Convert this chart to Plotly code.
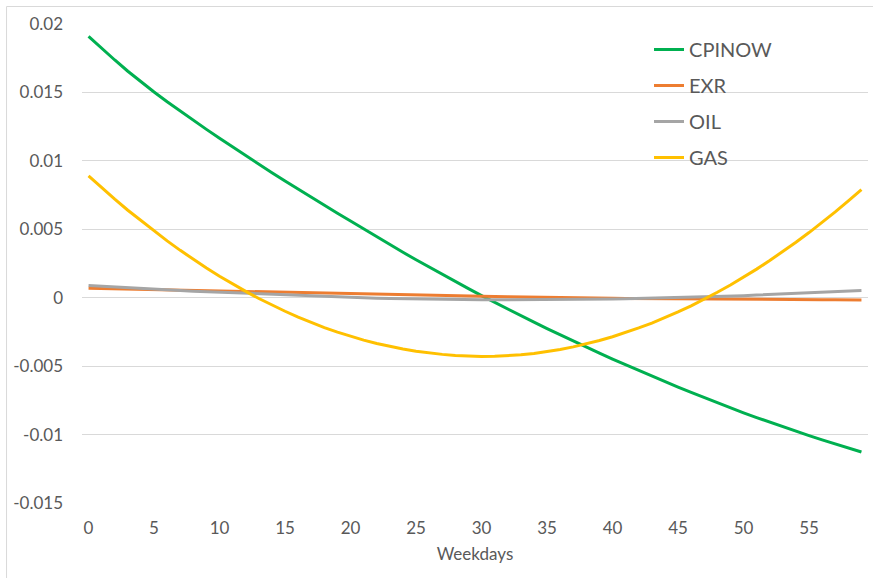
import plotly.graph_objects as go

weekdays = list(range(60))

cpinow = [0.01910, 0.01822, 0.01737, 0.01655, 0.01577, 0.01503,
          0.01432, 0.01363, 0.01296, 0.01230, 0.01165,
          0.01101, 0.01038, 0.00975, 0.00913, 0.00852,
          0.00792, 0.00733, 0.00675, 0.00617, 0.00560,
          0.00502, 0.00445, 0.00388, 0.00332, 0.00277,
          0.00223, 0.00170, 0.00118, 0.00066, 0.00015,
          -0.00035, -0.00084, -0.00132, -0.00179, -0.00226,
          -0.00272, -0.00317, -0.00361, -0.00405, -0.00448,
          -0.00490, -0.00532, -0.00573, -0.00613, -0.00653,
          -0.00692, -0.00730, -0.00768, -0.00805, -0.00841,
          -0.00876, -0.00910, -0.00943, -0.00976, -0.01008,
          -0.01039, -0.01069, -0.01098, -0.01127]

exr = [0.00070, 0.00068, 0.00066, 0.00064, 0.00062, 0.00060,
       0.00058, 0.00056, 0.00054, 0.00052, 0.00050,
       0.00048, 0.00046, 0.00044, 0.00042, 0.00040,
       0.00037, 0.00034, 0.00031, 0.00028, 0.00025,
       0.00023, 0.00021, 0.00019, 0.00017, 0.00015,
       0.00014, 0.00013, 0.00012, 0.00011, 0.00010,
       0.00008, 0.00007, 0.00005, 0.00004, 0.00002,
       0.00001, 0.00000, -0.00001, -0.00003, -0.00004,
       -0.00005, -0.00006, -0.00006, -0.00007, -0.00008,
       -0.00009, -0.00009, -0.00010, -0.00010, -0.00011,
       -0.00012, -0.00012, -0.00013, -0.00013, -0.00014,
       -0.00015, -0.00015, -0.00016, -0.00016]

oil = [0.00090, 0.00084, 0.00078, 0.00072, 0.00066, 0.00060,
       0.00056, 0.00052, 0.00048, 0.00044, 0.00040,
       0.00036, 0.00032, 0.00028, 0.00024, 0.00020,
       0.00016, 0.00012, 0.00008, 0.00005, 0.00002,
       -0.00001, -0.00004, -0.00006, -0.00008, -0.00010,
       -0.00011, -0.00012, -0.00013, -0.00014, -0.00015,
       -0.00015, -0.00015, -0.00015, -0.00015, -0.00015,
       -0.00014, -0.00013, -0.00012, -0.00011, -0.00010,
       -0.00008, -0.00006, -0.00004, -0.00002, 0.00000,
       0.00003, 0.00006, 0.00009, 0.00012, 0.00015,
       0.00019, 0.00023, 0.00027, 0.00031, 0.00035,
       0.00040, 0.00044, 0.00049, 0.00053]

gas = [0.00890, 0.00803, 0.00720, 0.00639, 0.00562, 0.00487,
       0.00415, 0.00346, 0.00280, 0.00217, 0.00157,
       0.00100, 0.00046, -0.00006, -0.00054, -0.00099,
       -0.00142, -0.00181, -0.00218, -0.00251, -0.00282,
       -0.00310, -0.00335, -0.00356, -0.00375, -0.00391,
       -0.00404, -0.00414, -0.00422, -0.00426, -0.00429,
       -0.00428, -0.00424, -0.00417, -0.00407, -0.00394,
       -0.00378, -0.00359, -0.00337, -0.00313, -0.00285,
       -0.00255, -0.00221, -0.00185, -0.00146, -0.00104,
       -0.00059, -0.00011, 0.00040, 0.00093, 0.00150,
       0.00209, 0.00272, 0.00337, 0.00405, 0.00476,
       0.00550, 0.00627, 0.00707, 0.00789]

series_names = ["CPINOW", "EXR", "OIL", "GAS"]
series_colors = ["#00B050", "#ED7D31", "#A5A5A5", "#FFC000"]

x_tick_vals = [0, 5, 10, 15, 20, 25, 30, 35, 40, 45, 50, 55]
x_tick_labels = ["0", "5", "10", "15", "20", "25", "30", "35", "40", "45", "50", "55"]
y_tick_vals = [0.02, 0.015, 0.01, 0.005, 0, -0.005, -0.01, -0.015]
y_tick_labels = ["0.02", "0.015", "0.01", "0.005", "0", "-0.005", "-0.01", "-0.015"]

FONT = "Lato"
TXT = "#595959"

fig = go.Figure()
for name, vals, col in zip(series_names, [cpinow, exr, oil, gas], series_colors):
    fig.add_trace(go.Scatter(x=weekdays, y=vals, mode="lines", name=name,
                             legendgroup=name,
                             line=dict(color=col, width=3)))

fig.update_layout(
    width=873, height=578,
    margin=dict(l=82, r=5, t=24, b=75, autoexpand=False),
    paper_bgcolor="white", plot_bgcolor="white",
    font=dict(family=FONT, color=TXT, size=17),
    showlegend=True,
    legend=dict(x=0.7214, y=0.9875, xanchor="left", yanchor="top",
                font=dict(size=20, color=TXT, family=FONT),
                bgcolor="rgba(0,0,0,0)", tracegroupgap=7,
                traceorder="grouped"),
    xaxis=dict(range=[-0.5, 59.5], tickvals=x_tick_vals, ticktext=x_tick_labels,
               showgrid=False, zeroline=False, showline=False,
               automargin=False, ticklabelstandoff=13,
               tickfont=dict(size=17, color=TXT),
               title=dict(text="Weekdays", font=dict(size=17, color=TXT), standoff=11)),
    yaxis=dict(range=[-0.015, 0.02], tickvals=y_tick_vals, ticktext=y_tick_labels,
               showgrid=True, gridcolor="#D9D9D9", gridwidth=1,
               zeroline=False, showline=False, automargin=False,
               ticklabelstandoff=18,
               tickfont=dict(size=17, color=TXT)),
    shapes=[dict(type="rect", xref="paper", yref="paper",
                 x0=-0.096, x1=1.02, y0=-0.18, y1=1.0365,
                 line=dict(color="#D9D9D9", width=1), layer="below")],
)

fig.write_html("out.html", config={"displayModeBar": False},
               post_script="document.body.style.margin='0';")
